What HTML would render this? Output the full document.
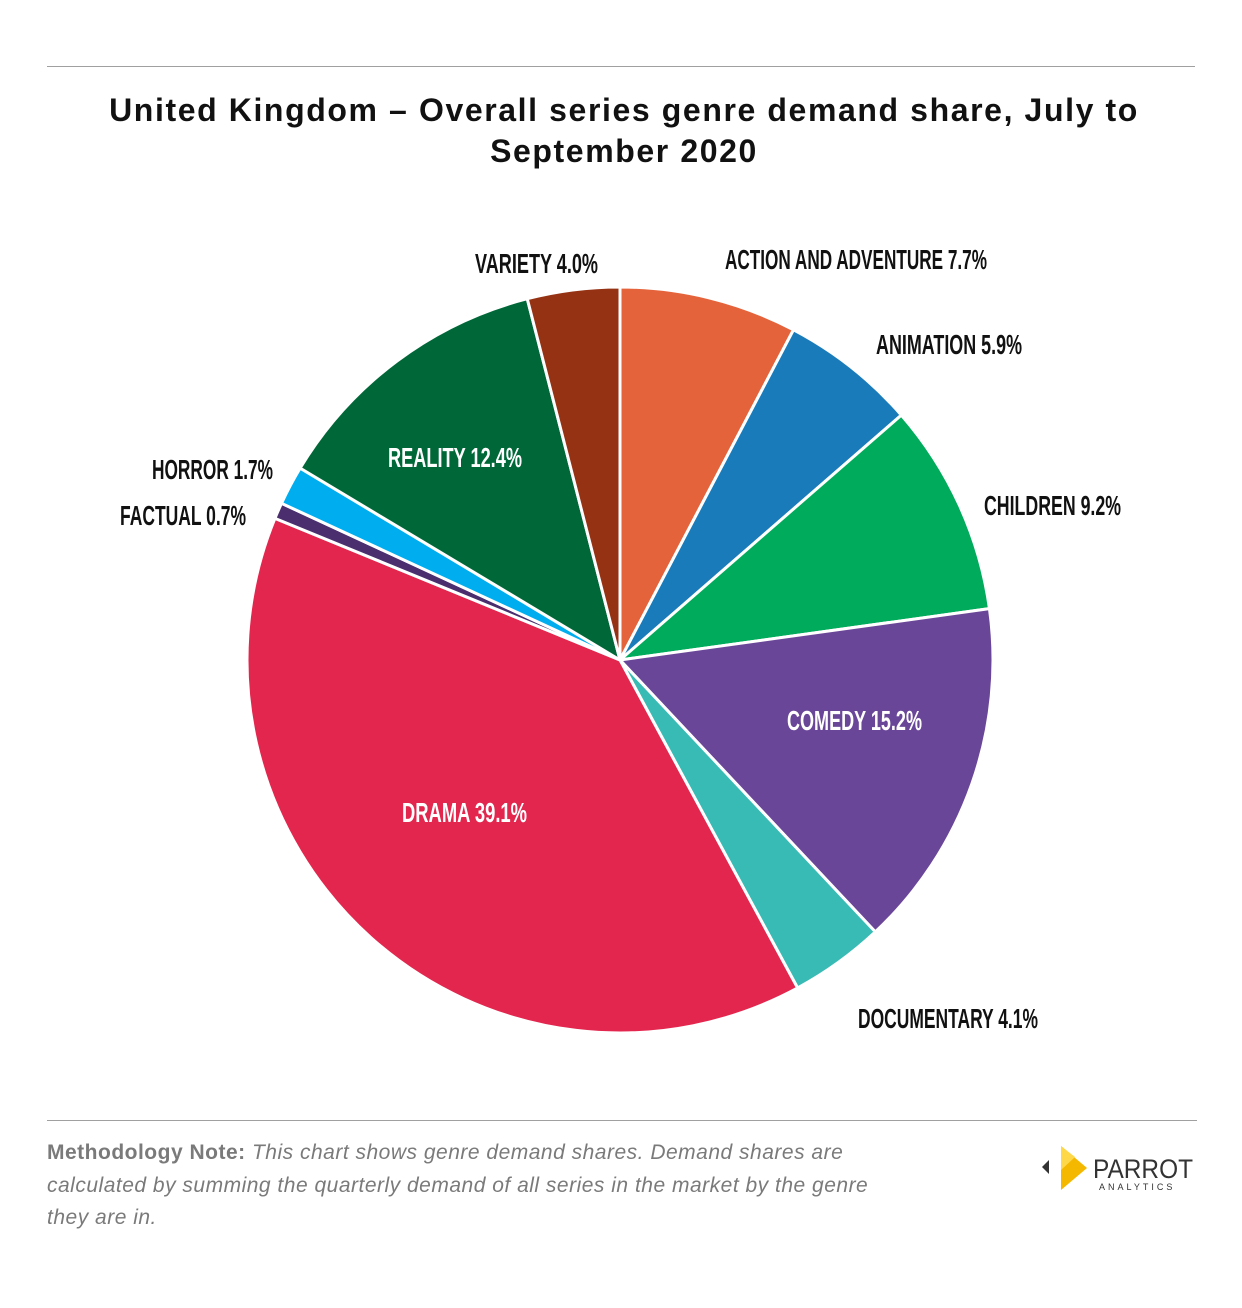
<!DOCTYPE html>
<html><head><meta charset="utf-8"><style>
html,body{margin:0;padding:0;background:#fff;}
body{width:1242px;height:1308px;position:relative;overflow:hidden;font-family:"Liberation Sans",sans-serif;}
.rule{position:absolute;height:1px;background:#a0a0a0;}
#title{position:absolute;left:0;width:1248px;top:90px;text-align:center;font-weight:bold;font-size:32px;line-height:41px;color:#111;letter-spacing:1.6px;}
#note{position:absolute;left:47px;top:1137px;width:860px;font-size:21px;line-height:32.5px;color:#7a7a7a;font-style:italic;letter-spacing:0.5px;}
#note b{font-style:normal;}
</style></head><body>
<div class="rule" style="left:47px;top:66px;width:1148px"></div>
<div id="title">United Kingdom – Overall series genre demand share, July to<br>September 2020</div>
<svg id="chart" width="1242" height="1308" style="position:absolute;left:0;top:0"></svg>
<div class="rule" style="left:47px;top:1120px;width:1150px"></div>
<div id="note"><b>Methodology Note:</b> This chart shows genre demand shares. Demand shares are calculated by summing the quarterly demand of all series in the market by the genre they are in.</div>
<svg width="160" height="60" style="position:absolute;left:1035px;top:1138px">
<polygon points="14,22 14,36 7,29" fill="#333"/>
<polygon points="26,8 26,52 52,30" fill="#f5b800"/>
<polygon points="26,8 40,19 26,32" fill="#ffd84a"/>
<text x="58" y="40" font-family="Liberation Sans,sans-serif" font-size="27" fill="#333" textLength="100" lengthAdjust="spacingAndGlyphs">PARROT</text>
<text x="64" y="52" font-family="Liberation Sans,sans-serif" font-size="9" fill="#333" letter-spacing="3">ANALYTICS</text>
</svg>
<script>
const categories=["ACTION AND ADVENTURE","ANIMATION","CHILDREN","COMEDY","DOCUMENTARY","DRAMA","FACTUAL","HORROR","REALITY","VARIETY"];
const shares=[7.7,5.9,9.2,15.2,4.1,39.1,0.7,1.7,12.4,4.0];
const colors=["#e5633a","#1a7bba","#00ac5b","#6a4699","#38bbb4","#e3264e","#4a2e6e","#00aeef","#006838","#953214"];
const labelLayout=[[725,259,262],[876,344,146],[984,505,137],[787,720,135],[858,1018,180],[402,812,125],[120,515,126],[152,469,121],[388,457,134],[475,263,123]];
const svg=document.getElementById('chart');
const NS="http://www.w3.org/2000/svg";
const cx=620,cy=660,R=373;
const total=shares.reduce((a,b)=>a+b,0);
function pt(frac){const a=frac*2*Math.PI;return [cx+R*Math.sin(a),cy-R*Math.cos(a)];}
let acc=0;
shares.forEach((v,i)=>{
 const s=acc/total,e=(acc+v)/total;acc+=v;
 const p0=pt(s),p1=pt(e);
 const path=document.createElementNS(NS,'path');
 path.setAttribute('d',`M${cx},${cy}L${p0[0]},${p0[1]}A${R},${R} 0 ${e-s>0.5?1:0} 1 ${p1[0]},${p1[1]}Z`);
 path.setAttribute('fill',colors[i]);path.setAttribute('stroke','#fff');path.setAttribute('stroke-width','3');
 
 
 svg.appendChild(path);
});
shares.forEach((v,i)=>{
 const L=labelLayout[i];
 const t=document.createElementNS(NS,'text');
 t.setAttribute('x',L[0]);t.setAttribute('y',L[1]+10);
 t.setAttribute('textLength',L[2]);t.setAttribute('lengthAdjust','spacingAndGlyphs');
 t.setAttribute('font-family','"Liberation Sans Narrow","Liberation Sans",sans-serif');
 t.setAttribute('font-weight','bold');t.setAttribute('font-size','28');
 const inside=(i===3||i===5||i===8);
 t.setAttribute('fill',inside?'#fff':'#111');
 t.textContent=categories[i]+' '+v.toFixed(1)+'%';
 
 
 svg.appendChild(t);
});
</script>
</body></html>
